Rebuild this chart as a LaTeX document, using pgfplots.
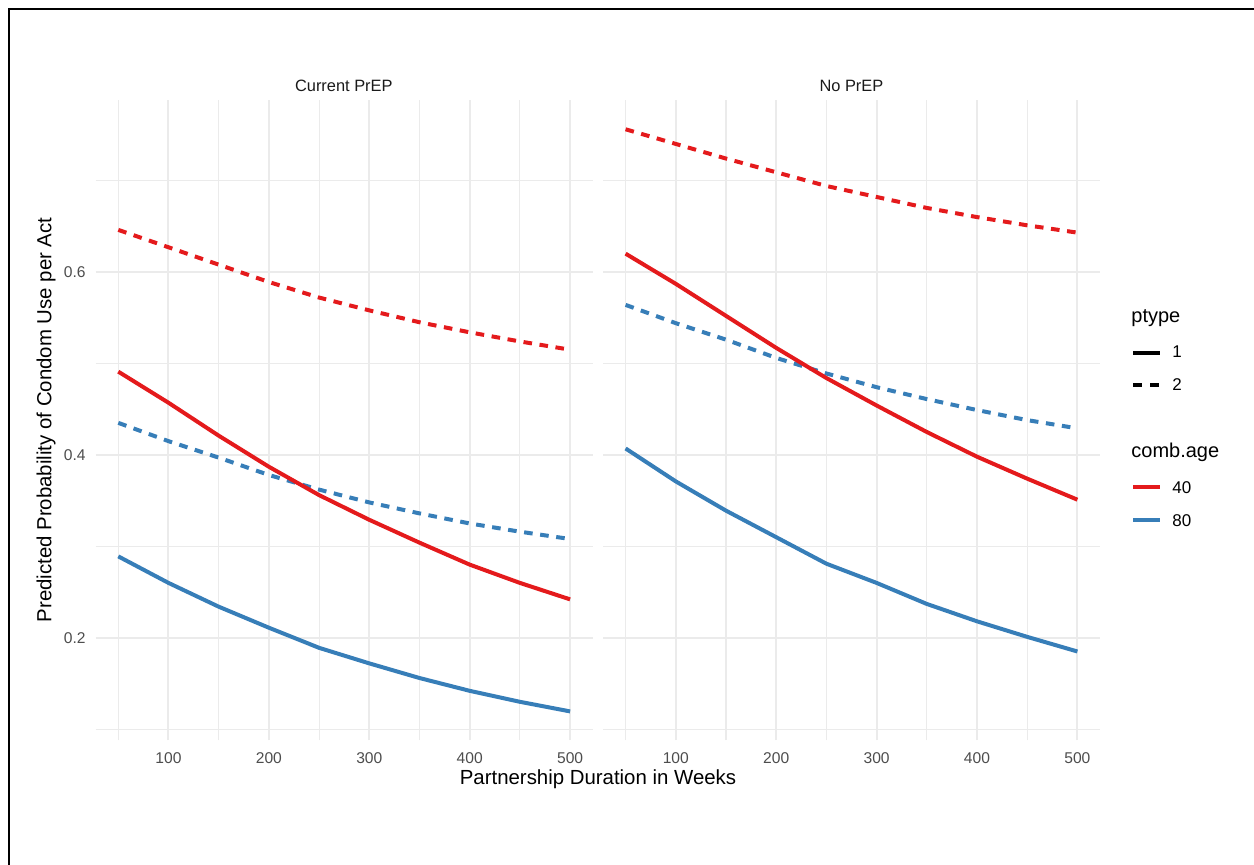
\documentclass[border=0pt]{standalone}
\usepackage{pgfplots}
\pgfplotsset{compat=1.18}
\usepackage{pgfplotstable}
\usepackage{fontspec}
\setmainfont{Liberation Sans}
\definecolor{cred}{HTML}{E41A1C}
\definecolor{cblue}{HTML}{377EB8}
\definecolor{tickgrey}{HTML}{4D4D4D}
\definecolor{gridgrey}{HTML}{EBEBEB}
\definecolor{stripgrey}{HTML}{1A1A1A}

% columns: duration, red solid (40,ptype1), red dashed (40,ptype2), blue solid (80,ptype1), blue dashed (80,ptype2)
\pgfplotstableread{
dur  rs    rd    bs     bd
50   0.491 0.646 0.289  0.435
100  0.457 0.627 0.260  0.415
150  0.421 0.608 0.234  0.397
200  0.387 0.589 0.211  0.378
250  0.356 0.572 0.189  0.362
300  0.329 0.558 0.172  0.348
350  0.304 0.545 0.156  0.336
400  0.280 0.534 0.142  0.325
450  0.260 0.524 0.130  0.316
500  0.242 0.515 0.1195 0.308
}\currentprep

\pgfplotstableread{
dur  rs    rd    bs    bd
50   0.620 0.756 0.407 0.564
100  0.587 0.740 0.371 0.544
150  0.552 0.724 0.339 0.526
200  0.517 0.709 0.310 0.506
250  0.484 0.694 0.281 0.489
300  0.454 0.682 0.260 0.474
350  0.425 0.670 0.237 0.461
400  0.398 0.660 0.218 0.449
450  0.374 0.651 0.201 0.438
500  0.351 0.643 0.185 0.429
}\noprep

\pgfplotsset{
  panel/.style={
    anchor=south west,
    scale only axis,
    width=248.5pt, height=320pt,
    xmin=27.5, xmax=522.5,
    ymin=0.0877, ymax=0.7875,
    xtick={100,200,300,400,500},
    minor xtick={50,150,250,350,450},
    ytick={0.2,0.4,0.6},
    minor ytick={0.1,0.3,0.5,0.7},
    grid=both,
    major grid style={color=gridgrey, line width=1pt},
    minor grid style={color=gridgrey, line width=0.55pt},
    axis line style={draw=none},
    tick style={draw=none},
    major tick length=0pt, minor tick length=0pt,
    /pgf/number format/assume math mode=true,
    tick label style={font=\fontsize{7.8}{9}\selectfont, text=tickgrey},
    yticklabel style={inner sep=0pt, xshift=-4.85pt},
    xticklabel style={inner sep=0pt, yshift=-5.75pt},
    yticklabel={\pgfmathprintnumber[fixed,precision=1]{\tick}},
    clip=false,
  },
  s40/.style={color=cred, line width=2pt, line join=round},
  s80/.style={color=cblue, line width=2pt, line join=round},
  dsh/.style={dash pattern=on 4.3pt off 3.8pt},
}

\begin{document}
\begin{tikzpicture}
\path[use as bounding box] (0,0) rectangle (627pt,432.5pt);
\draw[line width=1pt] (4.5pt,-2pt) -- (4.5pt,428pt) -- (630pt,428pt);

\begin{axis}[panel, at={(47.85pt,62.25pt)}]
\addplot[s80] table[x=dur,y=bs] {\currentprep};
\addplot[s80,dsh] table[x=dur,y=bd] {\currentprep};
\addplot[s40] table[x=dur,y=rs] {\currentprep};
\addplot[s40,dsh] table[x=dur,y=rd] {\currentprep};
\end{axis}

\begin{axis}[panel, at={(301.5pt,62.25pt)}, yticklabels={}]
\addplot[s80] table[x=dur,y=bs] {\noprep};
\addplot[s80,dsh] table[x=dur,y=bd] {\noprep};
\addplot[s40] table[x=dur,y=rs] {\noprep};
\addplot[s40,dsh] table[x=dur,y=rd] {\noprep};
\end{axis}

% facet strips
\node[anchor=center, text=stripgrey, font=\fontsize{8.2}{10}\selectfont] at (171.9pt,389.5pt) {Current PrEP};
\node[anchor=center, text=stripgrey, font=\fontsize{8.2}{10}\selectfont] at (425.7pt,389.5pt) {No PrEP};

% axis titles
\node[anchor=base, font=\fontsize{10.2}{12}\selectfont] at (299pt,40pt) {Partnership Duration in Weeks};
\node[anchor=center, rotate=90, font=\fontsize{10.2}{12}\selectfont] at (23pt,222.5pt) {Predicted Probability of Condom Use per Act};

% legend
\node[anchor=base west, inner sep=0pt, font=\fontsize{10}{12}\selectfont] at (565.5pt,271pt) {ptype};
\draw[line width=2pt, black] (566.5pt,256.15pt) -- (580pt,256.15pt);
\node[anchor=base west, inner sep=0pt, font=\fontsize{8.5}{10}\selectfont] at (586pt,253.5pt) {1};
\draw[line width=2pt, black, dash pattern=on 4.5pt off 4pt] (566.5pt,240pt) -- (580pt,240pt);
\node[anchor=base west, inner sep=0pt, font=\fontsize{8.5}{10}\selectfont] at (586pt,237.2pt) {2};

\node[anchor=base west, inner sep=0pt, font=\fontsize{10}{12}\selectfont] at (565.5pt,203.5pt) {comb.age};
\draw[line width=2pt, cred] (566.5pt,189pt) -- (580pt,189pt);
\node[anchor=base west, inner sep=0pt, font=\fontsize{8.5}{10}\selectfont] at (586pt,185.5pt) {40};
\draw[line width=2pt, cblue] (566.5pt,172.5pt) -- (580pt,172.5pt);
\node[anchor=base west, inner sep=0pt, font=\fontsize{8.5}{10}\selectfont] at (586pt,169.2pt) {80};
\end{tikzpicture}
\end{document}
